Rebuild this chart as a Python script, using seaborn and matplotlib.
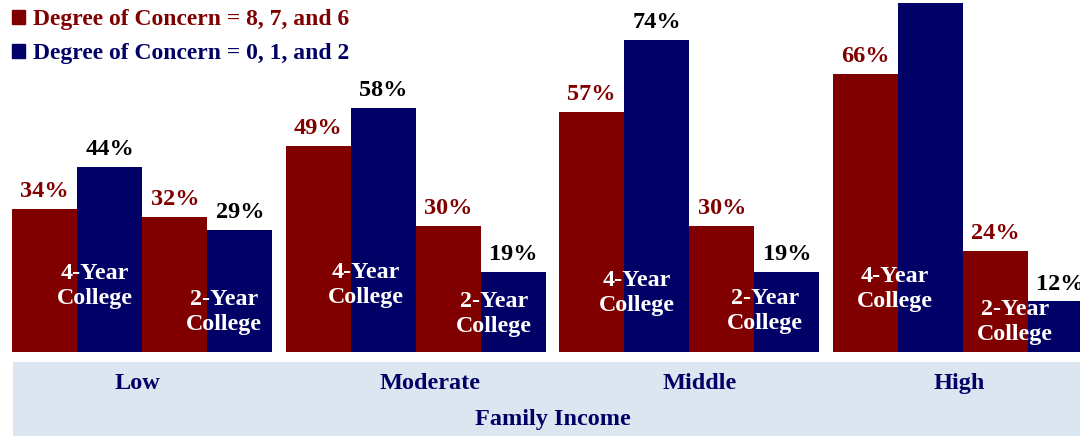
import numpy as np
import pandas as pd
import seaborn as sns
import matplotlib.pyplot as plt
from matplotlib.patches import Patch, Rectangle

RED = "#800000"
BLUE = "#000066"
BAND = "#dce6f1"

incomes = ["Low", "Moderate", "Middle", "High"]
concern_high_4yr = [34, 49, 57, 66]   # degree of concern 8, 7, 6
concern_low_4yr = [44, 58, 74, 83]    # degree of concern 0, 1, 2
concern_high_2yr = [32, 30, 30, 24]
concern_low_2yr = [29, 19, 19, 12]

series = ["4yr_high", "4yr_low", "2yr_high", "2yr_low"]
values = [concern_high_4yr, concern_low_4yr, concern_high_2yr, concern_low_2yr]

df = pd.DataFrame({
    "income": incomes * 4,
    "series": np.repeat(series, 4),
    "pct": np.concatenate(values),
})

sns.set_theme(style="white")
plt.rcParams["font.family"] = ["Liberation Serif", "DejaVu Serif"]
plt.rcParams["font.weight"] = "bold"

W, H = 1080, 436
fig = plt.figure(figsize=(W / 100, H / 100), dpi=100)
ax = fig.add_axes([0, 84 / H, 1, 352 / H])

sns.barplot(data=df, x="income", y="pct", hue="series", order=incomes,
            hue_order=series, palette=[RED, BLUE, RED, BLUE], width=0.952,
            saturation=1, linewidth=0, legend=False, ax=ax)

ax.set_xlim(-0.52, -0.52 + W / 273.5)
ax.set_ylim(0, 83.6)
ax.axis("off")

label_colors = [RED, "black", RED, "black"]
for cont, col in zip(ax.containers, label_colors):
    ax.bar_label(cont, labels=[f"{int(v)}%" for v in cont.datavalues],
                 padding=5, color=col, fontsize=17.5, fontweight="bold")

# college type labels inside bars (pixel layout, offsets from the pair boundary)
off_4yr = [18, 15, 13, -3]
off_2yr = [17, 13, 11, -13]
y_4yr = [286, 285, 293, 289]
y_2yr = [312, 314, 311, 322]
for i in range(len(incomes)):
    ax.text(i - 0.238 + off_4yr[i] / 273.5, (352 - y_4yr[i]) / 4.21, "4-Year\nCollege",
            ha="center", va="center", color="white", fontsize=17.3,
            fontweight="bold", linespacing=1.3)
    ax.text(i + 0.238 + off_2yr[i] / 273.5, (352 - y_2yr[i]) / 4.21, "2-Year\nCollege",
            ha="center", va="center", color="white", fontsize=17.3,
            fontweight="bold", linespacing=1.3, clip_on=False)

# band below the bars
fig.patches.append(Rectangle((13 / W, 0), 1, 74 / H, transform=fig.transFigure,
                             facecolor=BAND, edgecolor="none", zorder=-1))
income_x = [137, 430, 700, 959]
for name, x in zip(incomes, income_x):
    fig.text(x / W, (H - 383) / H, name, ha="center", va="center",
             color=BLUE, fontsize=17.5, fontweight="bold")
fig.text(553 / W, (H - 419) / H, "Family Income", ha="center", va="center",
         color=BLUE, fontsize=17.5, fontweight="bold")

handles = [Patch(color=RED), Patch(color=BLUE)]
leg = fig.legend(handles, ["Degree of Concern = 8, 7, and 6", "Degree of Concern = 0, 1, and 2"],
                 loc="upper left", bbox_to_anchor=(0.0, 1.006), frameon=False,
                 handlelength=0.55, handleheight=0.55, handletextpad=0.35,
                 labelspacing=0.55, borderpad=0.3, borderaxespad=0.2,
                 prop={"size": 17, "weight": "bold"})
for txt, col in zip(leg.get_texts(), [RED, BLUE]):
    txt.set_color(col)

fig.savefig("out.png", dpi=100)
